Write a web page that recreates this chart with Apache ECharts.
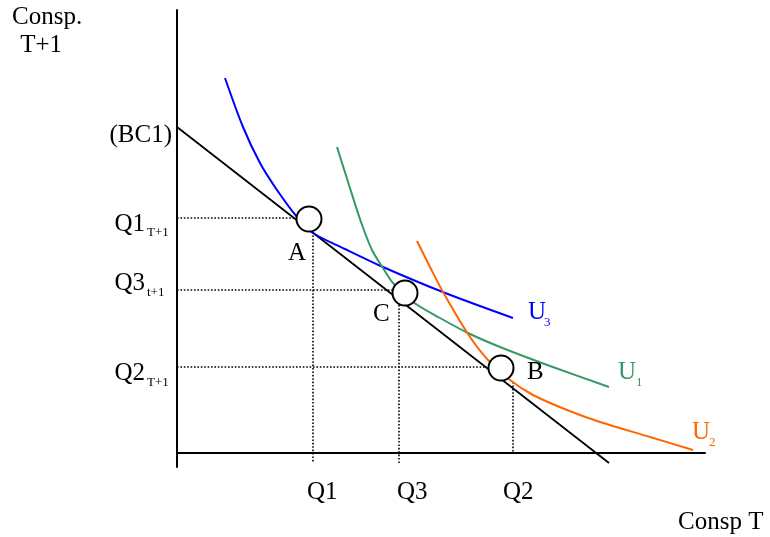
<!DOCTYPE html>
<html>
<head>
<meta charset="utf-8">
<title>Consumption choice: budget line and indifference curves</title>
<script src="https://cdn.jsdelivr.net/npm/echarts@6/dist/echarts.min.js"></script>
<style>
  html, body { margin: 0; padding: 0; background: #ffffff; }
  #chart { width: 770px; height: 537px; }
</style>
</head>
<body>
<div id="chart"></div>
<script>
// Consumption in period T (x) against consumption in period T+1 (y), arbitrary units.

// Budget constraint BC1: from the vertical intercept down through the x axis
const budgetLine = [[0, 32.6], [43.2, -1.0]];

// Indifference curves
const curveU3 = [[4.8, 37.5], [6.6, 32.6], [8.3, 29.0], [10.0, 26.3], [12.0, 23.6], [13.6, 22.0],
                 [16.8, 20.4], [20.6, 18.6], [26.7, 16.05], [33.6, 13.5]];
const curveU1 = [[16.0, 30.6], [17.2, 26.8], [18.4, 23.1], [19.5, 20.3], [20.6, 18.5], [21.6, 17.0],
                 [23.6, 15.1], [26.3, 13.5], [29.1, 12.0], [32.3, 10.6], [37.3, 8.7], [43.2, 6.6]];
const curveU2 = [[24.0, 21.2], [25.3, 18.6], [26.6, 16.1], [29.1, 11.9], [31.1, 9.3], [33.3, 7.3],
                 [35.6, 5.8], [39.0, 4.3], [42.3, 3.1], [47.3, 1.6], [51.6, 0.3]];

// Chosen bundles A, C, B
const bundleNames = ['A', 'C', 'B'];
const bundles = [[13.2, 23.4], [22.8, 16.0], [32.4, 8.5]];

// Quantities marked on the axes
const xTickNames = ['Q1', 'Q3', 'Q2'];
const xTickValues = [13.6, 22.2, 33.6];
const yTickNames = ['Q1', 'Q3', 'Q2'];
const yTickSubs = ['T+1', 't+1', 'T+1'];
const yTickValues = [23.5, 16.3, 8.6];

// Extent of the dotted guide lines
const xGuideEnds = [11.8, 21.6, 31.0];          // horizontal guides run from x = 0 to here
const yGuideRanges = [[22.1, -0.9], [14.8, -1.0], [7.1, 0]]; // vertical guides, top to bottom

const FONT = '"Liberation Serif", "Times New Roman", serif';
const BLUE = '#0000ff', GREEN = '#339966', ORANGE = '#ff6600';

const chart = echarts.init(document.getElementById('chart'), null, { renderer: 'canvas' });

function dotted(data) {
  return {
    type: 'line', data: data, showSymbol: false, silent: true, z: 2,
    lineStyle: { color: '#000', width: 1.6, type: [1.6, 1.8] }
  };
}
function curve(data, color) {
  return {
    type: 'line', data: data, smooth: 0.3, showSymbol: false, silent: true, z: 3,
    lineStyle: { color: color, width: 2 }
  };
}

const series = [];
xTickValues.forEach((x, i) => {
  series.push(dotted([[0, yTickValues[i]], [xGuideEnds[i], yTickValues[i]]]));
  series.push(dotted([[x, yGuideRanges[i][0]], [x, yGuideRanges[i][1]]]));
});
series.push({
  type: 'line', data: budgetLine, showSymbol: false, silent: true, z: 3,
  lineStyle: { color: '#000', width: 1.8 }
});
series.push(curve(curveU3, BLUE));
series.push(curve(curveU1, GREEN));
series.push(curve(curveU2, ORANGE));
series.push({
  type: 'scatter', data: bundles, symbol: 'circle', symbolSize: 25, z: 6, silent: true,
  itemStyle: { color: '#ffffff', borderColor: '#000', borderWidth: 2, opacity: 1 }
});

// Text: [text, left x, baseline y, font size, colour, align]
const S = 25, s = 13;
const texts = [
  ['Consp.', 12, 25, S, '#000', 'left'],
  [' T+1', 14, 53, S, '#000', 'left'],
  ['(BC1)', 172, 143, S, '#000', 'right'],
  [yTickNames[0], 145, 232, S, '#000', 'right'],
  [yTickSubs[0], 147, 237, s, '#000', 'left'],
  [yTickNames[1], 145, 291, S, '#000', 'right'],
  [yTickSubs[1], 147, 297, s, '#000', 'left'],
  [yTickNames[2], 145, 381, S, '#000', 'right'],
  [yTickSubs[2], 147, 387, s, '#000', 'left'],
  [bundleNames[0], 288, 261, S, '#000', 'left'],
  [bundleNames[1], 373, 322, S, '#000', 'left'],
  [bundleNames[2], 527, 380, S, '#000', 'left'],
  ['U', 528, 320, S, BLUE, 'left'],
  ['3', 544, 327, s, BLUE, 'left'],
  ['U', 618, 380, S, GREEN, 'left'],
  ['1', 636, 387, s, GREEN, 'left'],
  ['U', 692, 440, S, ORANGE, 'left'],
  ['2', 709, 447, s, ORANGE, 'left'],
  [xTickNames[0], 307, 500, S, '#000', 'left'],
  [xTickNames[1], 397, 500, S, '#000', 'left'],
  [xTickNames[2], 503, 500, S, '#000', 'left'],
  ['Consp T', 678, 530, S, '#000', 'left']
];
const graphic = texts.map(t => ({
  type: 'text', silent: true, z: 10,
  style: {
    text: t[0], x: t[1], y: t[2] - 0.305 * t[3],
    font: t[3] + 'px ' + FONT, fill: t[4],
    align: t[5], verticalAlign: 'middle'
  }
}));

chart.setOption({
  animation: false,
  backgroundColor: '#ffffff',
  grid: { left: 177, top: 10, width: 528, height: 457 },
  xAxis: {
    type: 'value', min: 0, max: 52.8,
    axisLine: { show: true, onZero: true, lineStyle: { color: '#000', width: 2 } },
    axisTick: { show: false }, axisLabel: { show: false }, splitLine: { show: false }
  },
  yAxis: {
    type: 'value', min: -1.4, max: 44.3,
    axisLine: { show: true, onZero: true, lineStyle: { color: '#000', width: 2 } },
    axisTick: { show: false }, axisLabel: { show: false }, splitLine: { show: false }
  },
  series: series,
  graphic: graphic
});
</script>
</body>
</html>
